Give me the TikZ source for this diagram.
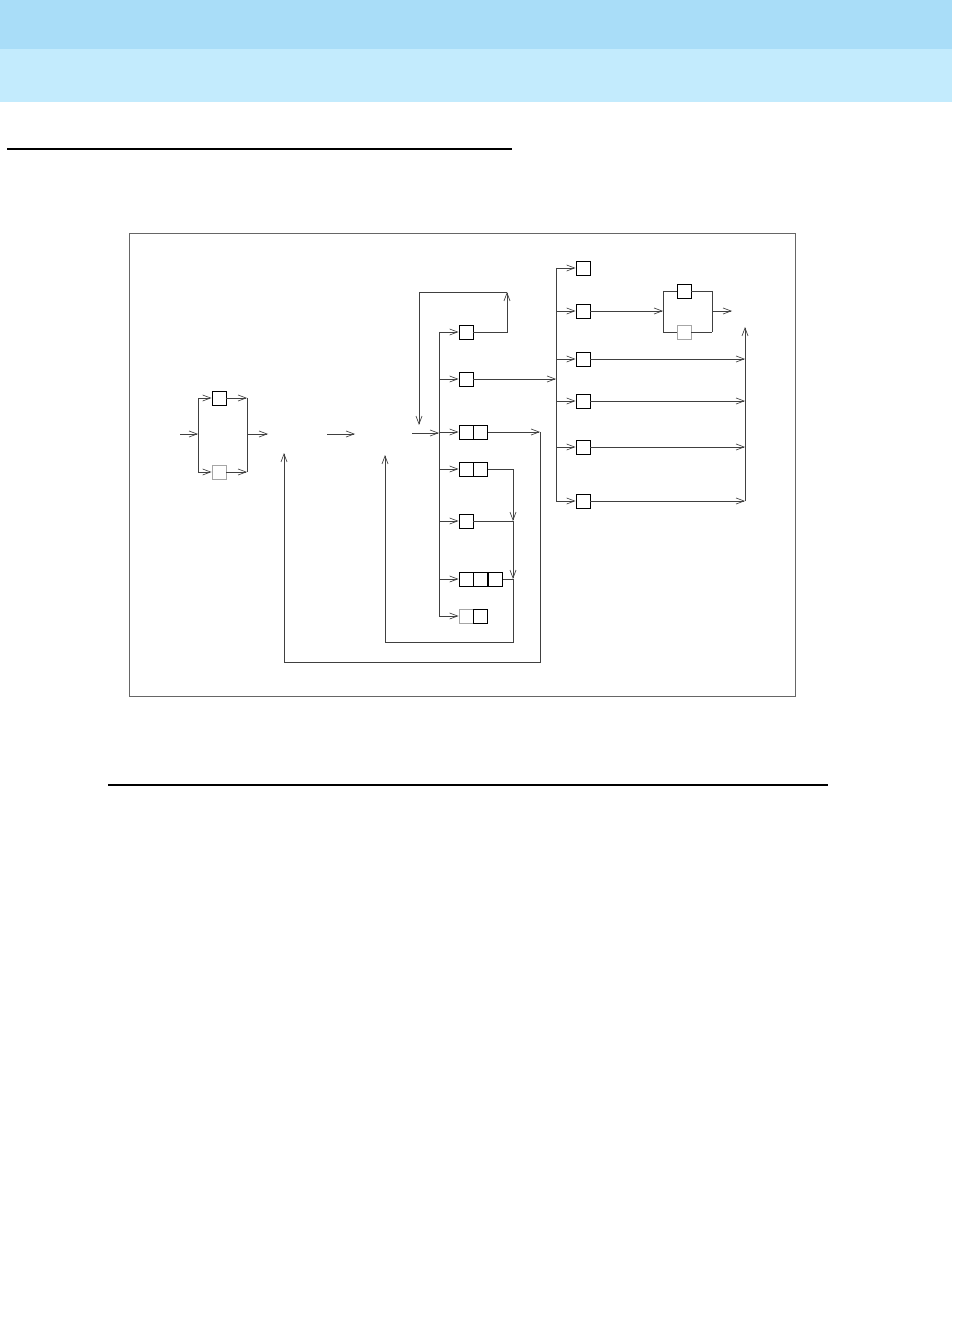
\documentclass[tikz,border=0pt]{standalone}
\usetikzlibrary{arrows.meta}
\definecolor{bandA}{HTML}{A9DDF8}
\definecolor{bandB}{HTML}{C3EBFD}
\begin{document}
\begin{tikzpicture}[x=0.75pt,y=-0.75pt,
  box/.style={draw=black, line width=0.65pt, minimum width=10.5pt, minimum height=10.5pt, inner sep=0pt, fill=white},
  fbox/.style={box, draw=gray!70},
  ln/.style={draw=black!75, line width=0.55pt},
  arr/.style={ln, -{Straight Barb[length=6pt,width=4.5pt,line width=0.5pt]}}]
\useasboundingbox (0,0) rectangle (952,1326);
% header bands
\fill[bandA] (0,0) rectangle (952,49);
\fill[bandB] (0,49) rectangle (952,102);
\draw[line width=1.6pt] (7,149) -- (512,149);
\draw[line width=1pt] (108,785) -- (828,785);
% frame
\draw[draw=black!60, line width=0.6pt] (129,233) rectangle (795,696);

% ---------- left parallel group ----------
\coordinate (in0) at (180,434);
\coordinate (j0) at (198,434);
\coordinate (j0t) at (198,398);
\coordinate (j0b) at (198,472);
\coordinate (k0t) at (247,398);
\coordinate (k0b) at (247,472);
\coordinate (k0) at (247,434);
\coordinate (out0) at (268,434);
\node[box] (L1) at (219,398) {};
\node[fbox] (L2) at (219,472) {};
\draw[arr] (in0) -- (j0);
\draw[ln] (j0t) -- (j0b);
\draw[arr] (j0t) -- (L1);
\draw[arr] (j0b) -- (L2);
\draw[arr] (L1) -- (k0t);
\draw[arr] (L2) -- (k0b);
\draw[ln] (k0t) -- (k0b);
\draw[arr] (k0) -- (out0);

% middle arrow
\coordinate (m1) at (327,434);
\coordinate (m2) at (355,434);
\draw[arr] (m1) -- (m2);

% ---------- central bus ----------
\coordinate (in1) at (412,433);
\coordinate (b0) at (439,433);
\coordinate (btop) at (439,332);
\coordinate (bbot) at (439,616);
\draw[arr] (in1) -- (b0);
\draw[ln] (btop) -- (bbot);

\node[box] (B1) at (466,332) {};
\node[box] (B2) at (466,379) {};
\node[box] (B3a) at (466,432) {};
\node[box,anchor=west] (B3b) at (B3a.east) {};
\node[box] (B4a) at (466,469) {};
\node[box,anchor=west] (B4b) at (B4a.east) {};
\node[box] (B5) at (466,521) {};
\node[box] (B6a) at (466,579) {};
\node[box,anchor=west] (B6b) at (B6a.east) {};
\node[box,anchor=west] (B6c) at (B6b.east) {};
\node[fbox] (B7a) at (466,616) {};
\node[box,anchor=west] (B7b) at (B7a.east) {};

\coordinate (s1) at (439,332);
\coordinate (s2) at (439,379);
\coordinate (s3) at (439,432);
\coordinate (s4) at (439,469);
\coordinate (s5) at (439,521);
\coordinate (s6) at (439,579);
\coordinate (s7) at (439,616);
\draw[arr] (s1) -- (B1);
\draw[arr] (s2) -- (B2);
\draw[arr] (s3) -- (B3a);
\draw[arr] (s4) -- (B4a);
\draw[arr] (s5) -- (B5);
\draw[arr] (s6) -- (B6a);
\draw[arr] (s7) -- (B7a);

% top loop
\coordinate (t1) at (507,292);
\coordinate (t2) at (419,425);
\draw[arr] (B1.east) -| (t1);
\draw[arr] (t1) -| (t2);

% long feedback
\coordinate (f1) at (540,432);
\coordinate (f2) at (284,453);
\draw[arr] (B3b.east) -- (f1);
\draw[arr] (f1) |- (284,662) -- (f2);

% short feedback
\coordinate (c4) at (513,469);
\coordinate (c5) at (513,521);
\coordinate (c6) at (513,579);
\coordinate (g2) at (385,455);
\draw[ln] (B4b.east) -- (c4);
\draw[arr] (c4) -- (c5);
\draw[ln] (B5.east) -- (c5);
\draw[arr] (c5) -- (c6);
\draw[ln] (B6c.east) -- (c6);
\draw[arr] (c6) |- (385,642) -- (g2);

% ---------- right bus ----------
\coordinate (r0) at (556,379);
\draw[arr] (B2.east) -- (r0);
\coordinate (rtop) at (556,268);
\coordinate (rbot) at (556,501);
\draw[ln] (rtop) -- (rbot);
\node[box] (R1) at (583,268) {};
\node[box] (R2) at (583,311) {};
\node[box] (R3) at (583,359) {};
\node[box] (R4) at (583,401) {};
\node[box] (R5) at (583,447) {};
\node[box] (R6) at (583,501) {};
\foreach \n/\y in {R1/268,R2/311,R3/359,R4/401,R5/447,R6/501}{
  \draw[arr] (556,\y) -- (\n);
}
% collector
\coordinate (q3) at (745,359);
\coordinate (q4) at (745,401);
\coordinate (q5) at (745,447);
\coordinate (q6) at (745,501);
\coordinate (qt) at (745,327);
\draw[arr] (R3) -- (q3);
\draw[arr] (R4) -- (q4);
\draw[arr] (R5) -- (q5);
\draw[arr] (R6) -- (q6);
\draw[arr] (q6) -- (qt);

% parallel group right
\coordinate (p0) at (663,311);
\coordinate (p0t) at (663,291);
\coordinate (p0b) at (663,332);
\coordinate (p1t) at (712,291);
\coordinate (p1b) at (712,332);
\coordinate (p1) at (712,311);
\coordinate (pout) at (732,311);
\node[box] (P1) at (684,291) {};
\node[fbox] (P2) at (684,332) {};
\draw[arr] (R2) -- (p0);
\draw[ln] (p0t) -- (p0b);
\draw[ln] (p0t) -- (P1) -- (p1t);
\draw[ln] (p0b) -- (P2) -- (p1b);
\draw[ln] (p1t) -- (p1b);
\draw[arr] (p1) -- (pout);
\end{tikzpicture}
\end{document}
